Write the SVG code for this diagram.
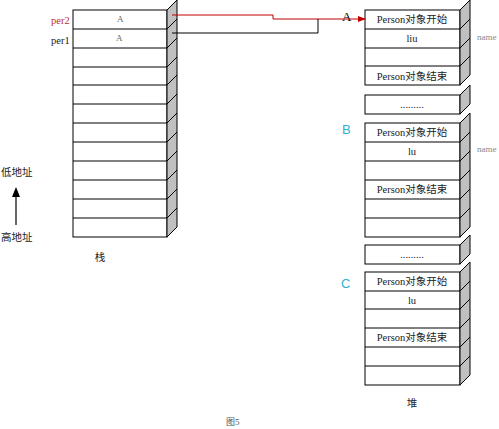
<svg xmlns="http://www.w3.org/2000/svg" width="499" height="429" viewBox="0 0 499 429">
<style>
.cell{fill:#fff;stroke:#000;stroke-width:1}
.side{fill:#c0c0c0;stroke:#000;stroke-width:1}
.dg{stroke:#000;stroke-width:1}
.t{font-family:"Liberation Serif","Noto Sans CJK SC",serif;font-size:10.5px;fill:#222;text-anchor:middle}
.lbl{font-family:"Liberation Serif","Noto Sans CJK SC",serif;font-size:10.5px;fill:#222}
.sm{font-family:"Liberation Serif","Noto Sans CJK SC",serif;font-size:9px;fill:#666}
.ab{font-family:"Liberation Sans",sans-serif;font-size:13px;fill:#30b0d0}
</style>
<defs>
<marker id="ar" markerWidth="8" markerHeight="8" refX="7" refY="4" orient="auto" markerUnits="userSpaceOnUse">
<path d="M0,1 L8,4 L0,7 Z" fill="#c00000"/>
</marker>
</defs>
<rect width="499" height="429" fill="#fff"/>

<g id="stack">
<rect class="cell" x="73" y="10" width="94" height="227"/>
<g class="dg">
<line x1="73" y1="29" x2="167" y2="29"/><line x1="73" y1="48" x2="167" y2="48"/><line x1="73" y1="67" x2="167" y2="67"/><line x1="73" y1="85" x2="167" y2="85"/><line x1="73" y1="104" x2="167" y2="104"/><line x1="73" y1="123" x2="167" y2="123"/><line x1="73" y1="142" x2="167" y2="142"/><line x1="73" y1="161" x2="167" y2="161"/><line x1="73" y1="180" x2="167" y2="180"/><line x1="73" y1="199" x2="167" y2="199"/><line x1="73" y1="218" x2="167" y2="218"/>
</g>
<polygon class="side" points="167,10 177,0 177,227 167,237"/>
<g class="dg">
<line x1="167" y1="29" x2="177" y2="19"/><line x1="167" y1="48" x2="177" y2="38"/><line x1="167" y1="67" x2="177" y2="57"/><line x1="167" y1="85" x2="177" y2="75"/><line x1="167" y1="104" x2="177" y2="94"/><line x1="167" y1="123" x2="177" y2="113"/><line x1="167" y1="142" x2="177" y2="132"/><line x1="167" y1="161" x2="177" y2="151"/><line x1="167" y1="180" x2="177" y2="170"/><line x1="167" y1="199" x2="177" y2="189"/><line x1="167" y1="218" x2="177" y2="208"/>
</g>
<text class="sm" x="117" y="22">A</text>
<text class="sm" x="116" y="41">A</text>
<text class="lbl" x="51" y="24" style="fill:#c03030">per2</text>
<text class="lbl" x="51" y="44">per1</text>
<text class="t" x="100" y="261">栈</text>
</g>

<g id="heapA">
<rect class="cell" x="365" y="10" width="95" height="75"/>
<g class="dg"><line x1="365" y1="29" x2="460" y2="29"/><line x1="365" y1="48" x2="460" y2="48"/><line x1="365" y1="66" x2="460" y2="66"/></g>
<polygon class="side" points="460,10 470,0 470,75 460,85"/>
<g class="dg"><line x1="460" y1="29" x2="470" y2="19"/><line x1="460" y1="48" x2="470" y2="38"/><line x1="460" y1="66" x2="470" y2="56"/></g>
<text class="t" x="412" y="23">Person对象开始</text>
<text class="t" x="412" y="42">liu</text>
<text class="t" x="412" y="80">Person对象结束</text>
<text class="sm" x="477" y="40" style="fill:#888">name</text>
</g>

<g id="dots1">
<rect class="cell" x="365" y="95" width="95" height="19"/>
<polygon class="side" points="460,95 470,85 470,104 460,114"/>
<text class="t" x="412" y="108">.........</text>
</g>

<g id="heapB">
<rect class="cell" x="365" y="123" width="95" height="114"/>
<g class="dg"><line x1="365" y1="142" x2="460" y2="142"/><line x1="365" y1="161" x2="460" y2="161"/><line x1="365" y1="180" x2="460" y2="180"/><line x1="365" y1="199" x2="460" y2="199"/><line x1="365" y1="218" x2="460" y2="218"/></g>
<polygon class="side" points="460,123 470,113 470,227 460,237"/>
<g class="dg"><line x1="460" y1="142" x2="470" y2="132"/><line x1="460" y1="161" x2="470" y2="151"/><line x1="460" y1="180" x2="470" y2="170"/><line x1="460" y1="199" x2="470" y2="189"/><line x1="460" y1="218" x2="470" y2="208"/></g>
<text class="t" x="412" y="136">Person对象开始</text>
<text class="t" x="412" y="155">lu</text>
<text class="t" x="412" y="193">Person对象结束</text>
<text class="sm" x="477" y="152" style="fill:#888">name</text>
</g>

<g id="dots2">
<rect class="cell" x="365" y="245" width="95" height="19"/>
<polygon class="side" points="460,245 470,235 470,254 460,264"/>
<text class="t" x="412" y="258">.........</text>
</g>

<g id="heapC">
<rect class="cell" x="365" y="272" width="95" height="113"/>
<g class="dg"><line x1="365" y1="291" x2="460" y2="291"/><line x1="365" y1="309" x2="460" y2="309"/><line x1="365" y1="328" x2="460" y2="328"/><line x1="365" y1="347" x2="460" y2="347"/><line x1="365" y1="366" x2="460" y2="366"/></g>
<polygon class="side" points="460,272 470,262 470,375 460,385"/>
<g class="dg"><line x1="460" y1="291" x2="470" y2="281"/><line x1="460" y1="309" x2="470" y2="299"/><line x1="460" y1="328" x2="470" y2="318"/><line x1="460" y1="347" x2="470" y2="337"/><line x1="460" y1="366" x2="470" y2="356"/></g>
<text class="t" x="412" y="285">Person对象开始</text>
<text class="t" x="412" y="304">lu</text>
<text class="t" x="412" y="341">Person对象结束</text>
<text class="t" x="412" y="407">堆</text>
</g>

<g id="labels">
<text x="342" y="21" font-family="Liberation Serif,serif" font-size="13" fill="#000">A</text>
<text class="ab" x="342" y="134">B</text>
<text class="ab" x="341" y="288">C</text>
<text class="lbl" x="1" y="176">低地址</text>
<text class="lbl" x="1" y="241">高地址</text>
<text class="sm" x="226" y="425" style="fill:#555">图5</text>
</g>

<g id="connectors" fill="none">
<polyline points="172,15 273,15 273,19 365,19" stroke="#c00000" stroke-width="1" marker-end="url(#ar)"/>
<polyline points="172,33 318,33 318,19" stroke="#000" stroke-width="1"/>
<line x1="16" y1="225" x2="16" y2="196" stroke="#000" stroke-width="1.2"/>
<polygon points="12,197 16,187 20,197" fill="#000"/>
</g>
</svg>
